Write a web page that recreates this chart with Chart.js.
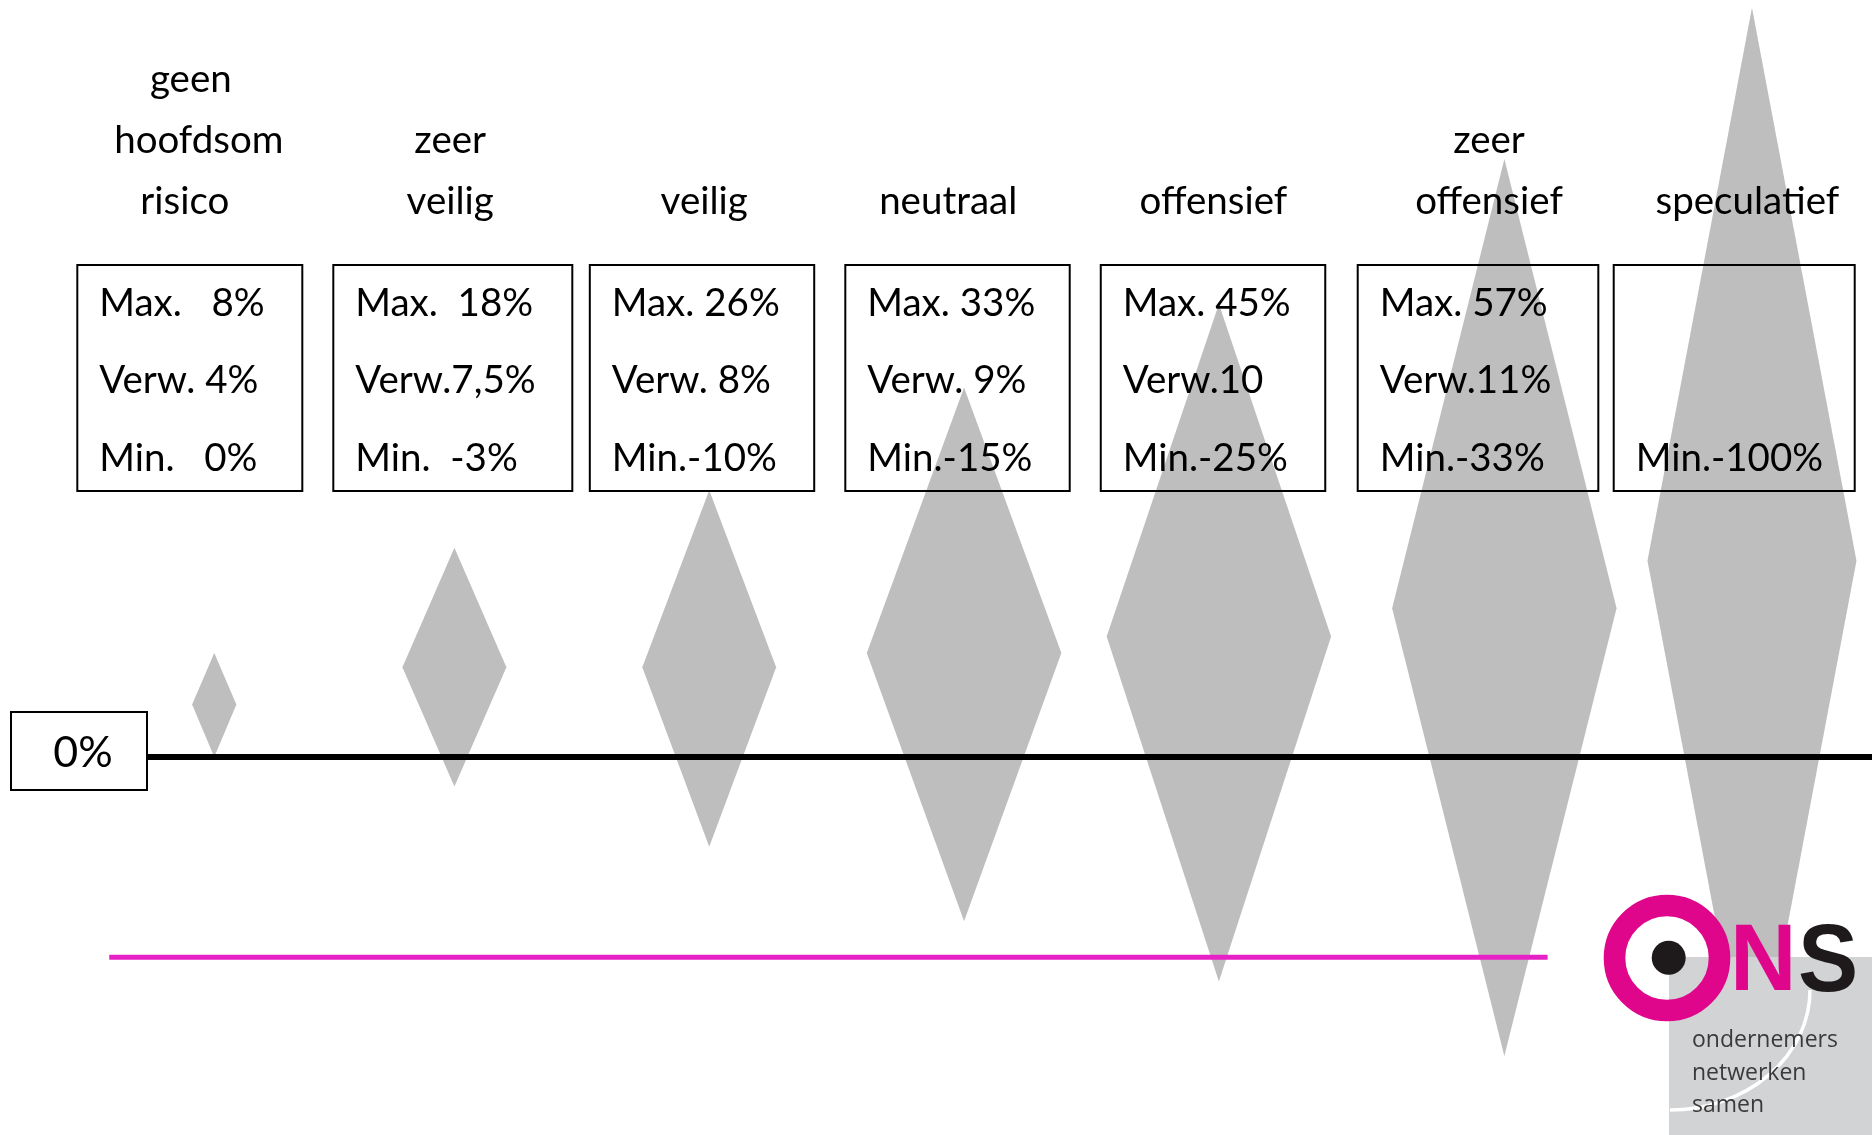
<!DOCTYPE html>
<html><head><meta charset="utf-8">
<script src="https://cdn.jsdelivr.net/npm/chart.js@4.4.1/dist/chart.umd.min.js"></script>
<style>html,body{margin:0;padding:0;background:#fff;overflow:hidden}#wrap{width:1872px;height:1135px;position:relative}</style>
</head><body><div id="wrap"><canvas id="c"></canvas></div>
<script>
// ---- data ----
const categories = [["geen","hoofdsom","risico"],["zeer","veilig"],["veilig"],["neutraal"],["offensief"],["zeer","offensief"],["speculatief"]];
const maxLabels = ["Max.   8%","Max.  18%","Max. 26%","Max. 33%","Max. 45%","Max. 57%",""];
const expLabels = ["Verw. 4%","Verw.7,5%","Verw. 8%","Verw. 9%","Verw.10","Verw.11%",""];
const minLabels = ["Min.   0%","Min.  -3%","Min.-10%","Min.-15%","Min.-25%","Min.-33%","Min.-100%"];
// diamonds as drawn: x in category units, y in % units of the drawing
const diamondCenter    = [0.095, 1.028, 2.018, 3.008, 3.998, 5.107, 6.069];
const diamondHalfWidth = [0.086, 0.202, 0.260, 0.378, 0.436, 0.436, 0.406];
const diamondTop       = [8.1, 16.3, 20.8, 28.8, 35.3, 46.6, 58.4];
const diamondMid       = [4.1, 7.0, 7.0, 8.1, 9.4, 11.6, 15.3];
const diamondBottom    = [0, -2.3, -7.0, -12.8, -17.5, -23.3, -27.8];
const zeroLineLabel = "0%";
const zeroLineX = [-0.166, 6.7];
const zeroLineY = 0;
const pinkLineX = [-0.313, 5.275];
const pinkLineY = -15.6;
const logoLines = ["ondernemers","netwerken","samen"];

// ---- styles / layout ----
const GRAY = '#bebebe';
const FONT = 'Lato, "Open Sans", sans-serif';
const boxNudge = [0, 5.6, -2.6, -4.5, -6.4, 1.2, 0];
const boxW = [225, 239, 224.4, 224.4, 224.5, 240.6, 241];
const labelNudge = [1, 3, -0.4, -13.8, -6, 12.2, 13.2];
const lineNudge = [[0, 8, -6], [0, 0], [0], [0], [0], [0, 0], [0]];

const datasets = [];
datasets.push({label:'zero', data:[{x:zeroLineX[0],y:zeroLineY},{x:zeroLineX[1],y:zeroLineY}],
  borderColor:'#000', borderWidth:6, pointRadius:0, showLine:true, fill:false, order:0, borderCapStyle:'butt'});
datasets.push({label:'pink', data:[{x:pinkLineX[0],y:pinkLineY},{x:pinkLineX[1],y:pinkLineY}],
  borderColor:'#e622c6', borderWidth:5, pointRadius:0, showLine:true, fill:false, order:0, borderCapStyle:'butt'});
for (let i = 0; i < diamondCenter.length; i++) {
  const c = diamondCenter[i], h = diamondHalfWidth[i];
  datasets.push({label:categories[i].join(' '),
    data:[{x:c-h,y:diamondMid[i]},{x:c,y:diamondTop[i]},{x:c+h,y:diamondMid[i]},{x:c,y:diamondBottom[i]},{x:c-h,y:diamondMid[i]}],
    showLine:true, fill:'shape', backgroundColor:GRAY, borderColor:'rgba(0,0,0,0)', borderWidth:1,
    pointRadius:0, tension:0, order:2});
}

const annot = {
  id:'annot',
  afterDatasetsDraw(chart){
    const ctx = chart.ctx, xs = chart.scales.x;
    ctx.save();
    ctx.fillStyle = '#000'; ctx.strokeStyle = '#000';
    for (let i = 0; i < categories.length; i++) {
      const cx = xs.getPixelForValue(i) + boxNudge[i];
      const left = cx - boxW[i]/2;
      ctx.lineWidth = 2;
      ctx.strokeRect(left, 265, boxW[i], 226);
      ctx.font = '38.5px ' + FONT;
      ctx.textAlign = 'left'; ctx.textBaseline = 'alphabetic';
      ctx.fillText(maxLabels[i], left + 22, 316);
      ctx.fillText(expLabels[i], left + 22, 393);
      ctx.fillText(minLabels[i], left + 22, 471);
      ctx.textAlign = 'center';
      const lines = categories[i];
      const lx = xs.getPixelForValue(i) + labelNudge[i];
      for (let k = 0; k < lines.length; k++) {
        ctx.fillText(lines[k], lx + lineNudge[i][k], 214 - (lines.length - 1 - k) * 61);
      }
    }
    // 0% box
    ctx.fillStyle = '#fff';
    ctx.fillRect(11, 712, 136, 78);
    ctx.strokeRect(11, 712, 136, 78);
    ctx.fillStyle = '#000';
    ctx.font = '43px ' + FONT;
    ctx.textAlign = 'center';
    ctx.fillText(zeroLineLabel, 83, 767);
    ctx.restore();
  },
  afterDraw(chart){
    const ctx = chart.ctx;
    ctx.save();
    // gray square
    ctx.fillStyle = '#d2d3d5';
    ctx.fillRect(1669, 957, 203, 178);
    // white arc
    ctx.strokeStyle = '#fff'; ctx.lineWidth = 3.5;
    ctx.beginPath();
    ctx.ellipse(1670, 990, 140, 120, 0, 0, Math.PI/2);
    ctx.stroke();
    // ring
    ctx.strokeStyle = '#e0068c'; ctx.lineWidth = 21.6;
    ctx.beginPath(); ctx.arc(1667, 958, 52.5, 0, Math.PI*2); ctx.stroke();
    ctx.fillStyle = '#1e1a1b';
    ctx.beginPath(); ctx.arc(1668.7, 957.7, 17, 0, Math.PI*2); ctx.fill();
    // N S
    ctx.font = 'bold 94px "Liberation Sans", Arial, sans-serif';
    ctx.textAlign = 'left'; ctx.textBaseline = 'alphabetic';
    ctx.save(); ctx.translate(1730, 990); ctx.scale(0.98, 1);
    ctx.fillStyle = '#e0068c'; ctx.fillText('N', 0, 0); ctx.restore();
    ctx.save(); ctx.translate(1798, 991); ctx.scale(0.96, 1.03);
    ctx.fillStyle = '#1e1a1b'; ctx.fillText('S', 0, 0); ctx.restore();
    ctx.fillStyle = '#3a3a3a';
    ctx.font = '23px "Open Sans", sans-serif';
    ctx.fillText(logoLines[0], 1692, 1047);
    ctx.fillText(logoLines[1], 1692, 1080);
    ctx.fillText(logoLines[2], 1692, 1112);
    ctx.restore();
  }
};

new Chart(document.getElementById('c'), {
  type:'scatter',
  data:{datasets},
  options:{
    responsive:true, maintainAspectRatio:false, animation:false,
    layout:{padding:0},
    plugins:{legend:{display:false}, tooltip:{enabled:false}},
    scales:{
      x:{type:'linear', min:-0.7374, max:6.5353, display:false},
      y:{type:'linear', min:-29.46, max:59.0, display:false}
    }
  },
  plugins:[annot]
});
</script></body></html>
